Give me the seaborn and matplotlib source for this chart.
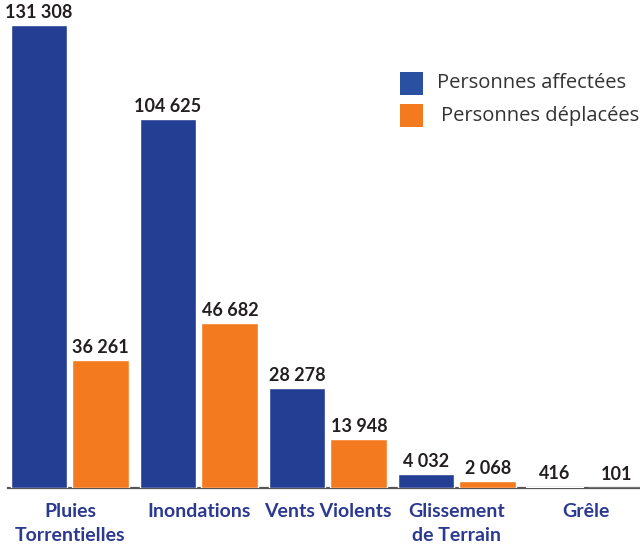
import matplotlib
matplotlib.use("Agg")
import matplotlib.pyplot as plt
import seaborn as sns
import pandas as pd
from matplotlib.patches import Rectangle

categories = ["Pluies\nTorrentielles", "Inondations", "Vents Violents", "Glissement\nde Terrain", "Grêle"]
affectees = [131308, 104625, 28278, 4032, 416]
deplacees = [36261, 46682, 13948, 2068, 101]
series = ["Personnes affectées", "Personnes déplacées"]
colors = ["#233E93", "#F47A20"]
legend_colors = ["#2A50A2", "#F47A20"]

df = pd.DataFrame({
    "cat": categories * 2,
    "val": affectees + deplacees,
    "serie": [series[0]] * len(categories) + [series[1]] * len(categories),
})

sns.set_style("white")
plt.rcParams["font.family"] = ["Lato", "DejaVu Sans"]

W, H = 640, 546
fig = plt.figure(figsize=(6.4, 5.46), dpi=100)
ax = fig.add_axes([8 / W, (H - 488) / H, 632 / W, 488 / H])

sns.barplot(data=df, x="cat", y="val", hue="serie", palette=colors,
            width=0.96, gap=0.083, ax=ax, legend=False, saturation=1, zorder=3)

for cont, vals in zip(ax.containers, [affectees, deplacees]):
    ax.bar_label(cont, labels=[f"{v:,}".replace(",", " ") for v in vals],
                 padding=3, fontsize=13, fontweight="bold", color="#231F20")

ax.set_xlim(-0.48, 4.42)
ax.set_ylim(0, 138400)
ax.set_xlabel("")
ax.set_ylabel("")
ax.set_yticks([])
for s in ["top", "right", "left"]:
    ax.spines[s].set_visible(False)
ax.spines["bottom"].set_color("#555555")
ax.spines["bottom"].set_linewidth(1.6)
ax.spines["bottom"].set_zorder(1)
ax.tick_params(axis="x", length=0, pad=11)
for lab in ax.get_xticklabels():
    lab.set_fontsize(14)
    lab.set_fontweight("bold")
    lab.set_color("#2B3990")
    lab.set_linespacing(1.45)

# legend drawn in figure pixel positions
tops = [72, 104]
for c, lab, top, tx in zip(legend_colors, series, tops, [437, 441]):
    fig.patches.append(Rectangle((400 / W, 1 - (top + 23) / H), 23 / W, 23 / H,
                                 transform=fig.transFigure, facecolor=c, edgecolor="none"))
    fig.text(tx / W, 1 - (top + 11.5) / H, lab, ha="left", va="center",
             fontsize=14.5, color="#333333", family=["Open Sans", "DejaVu Sans"])

fig.savefig("out.png", dpi=100)
